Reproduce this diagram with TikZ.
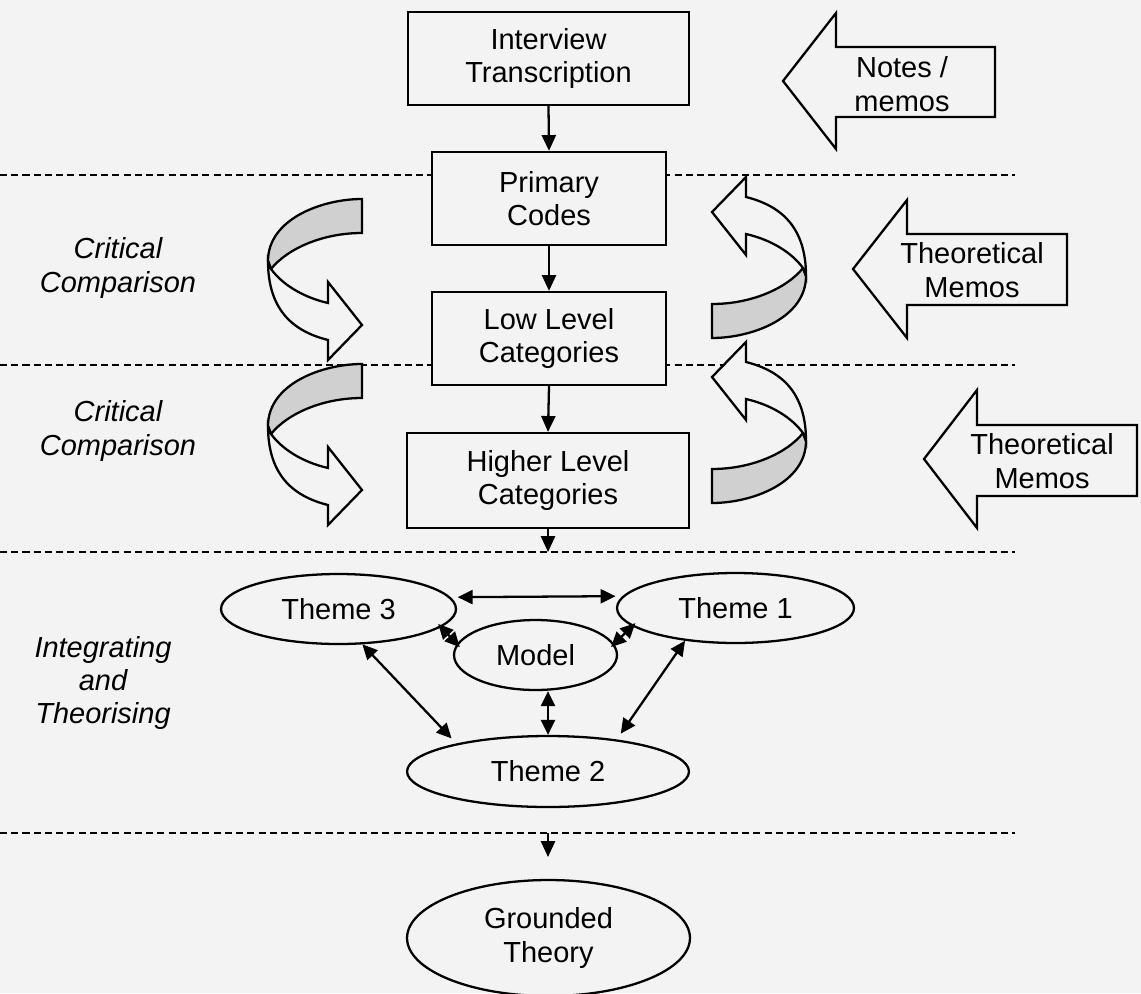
\documentclass[tikz,border=0pt]{standalone}
\usepackage{fontspec}
\setmainfont{Liberation Sans}
\usetikzlibrary{arrows.meta,shapes.geometric}
\definecolor{paper}{RGB}{243,243,243}
\definecolor{band}{RGB}{208,208,208}

% twisted ribbon arrow, drawn relative to the top corner of its flat end
\newcommand\ribbonarrow{%
  \draw[fill=band] (0,0) .. controls (-40,0) and (-94,20) .. (-94,62)
    -- (-91,70) .. controls (-75,50) and (-40,34) .. (0,34) -- cycle;
  \draw[fill=paper] (-94,62) .. controls (-94,110) and (-70,132) .. (-34,141)
    -- (-34,161) -- (0,126) -- (-34,83) -- (-34,104)
    .. controls (-60,98) and (-80,85) .. (-91,70) -- cycle;
}

\begin{document}
\begin{tikzpicture}[x=0.02cm, y=-0.02cm, line width=1.3pt, line join=miter,
  every node/.style={font=\fontsize{16.5}{19}\selectfont},
  tip/.style={-{Triangle[length=9pt,width=8pt]}},
  twotip/.style={{Triangle[length=8.5pt,width=8pt]}-{Triangle[length=8.5pt,width=8pt]}},
  bowtie/.style={{Triangle[length=8.5pt,width=8pt]}-{Triangle[length=8.5pt,width=8pt]},
    shorten <=-2.5pt, shorten >=-2.5pt},
  stagebox/.style={draw, fill=paper, align=center, inner sep=0pt},
  theme/.style={draw, fill=paper, ellipse, align=center, inner sep=0pt},
  phase/.style={align=center, font=\fontsize{16.5}{19}\selectfont\itshape},
  memo/.style={draw, fill=paper},
  divider/.style={dash pattern=on 4pt off 2.4pt, line width=1.1pt}]

\useasboundingbox (0,0) rectangle (1141,993);
\fill[paper] (0,0) rectangle (1141,993);

% phase dividers
\coordinate (d1a) at (0,175);  \coordinate (d1b) at (1015,175);
\coordinate (d2a) at (0,365);  \coordinate (d2b) at (1015,365);
\coordinate (d3a) at (0,552);  \coordinate (d3b) at (1015,552);
\coordinate (d4a) at (0,833);  \coordinate (d4b) at (1015,833);
\draw[divider] (d1a) -- (d1b);
\draw[divider] (d2a) -- (d2b);
\draw[divider] (d3a) -- (d3b);
\draw[divider] (d4a) -- (d4b);

% coding stages
\node[stagebox, minimum width=5.62cm, minimum height=1.86cm] (it) at (548.5,58.5) {Interview\\Transcription};
\node[stagebox, minimum width=4.68cm, minimum height=1.86cm] (pc) at (549,198.5) {Primary\\Codes};
\node[stagebox, minimum width=4.68cm, minimum height=1.86cm] (ll) at (549,338.5) {Low Level\\Categories};
\node[stagebox, minimum width=5.64cm, minimum height=1.90cm] (hl) at (548,480.5) {Higher Level\\Categories};

\draw[tip] (it.south) -- (pc.north);
\draw[tip] (pc.south) -- (ll.north);
\draw[tip] (ll.south) -- (hl.north);
\coordinate (hlend) at (548,552);
\draw[tip] (hl.south) -- (hlend);

% comparison loops
\begin{scope}[shift={(362,199)}]\ribbonarrow\end{scope}
\begin{scope}[shift={(362,364)}]\ribbonarrow\end{scope}
\begin{scope}[shift={(712,338)}, rotate=180]\ribbonarrow\end{scope}
\begin{scope}[shift={(712,503)}, rotate=180]\ribbonarrow\end{scope}

% memo inputs
\draw[memo] (783,81) -- (836,13) -- (836,47) -- (995,47) -- (995,117)
  -- (836,117) -- (836,149) -- cycle;
\node[align=center] (notes) at (902,84) {Notes /\\memos};
\draw[memo] (853,269) -- (907,200) -- (907,234) -- (1067,234) -- (1067,305)
  -- (907,305) -- (907,338) -- cycle;
\node[align=center] (memoA) at (972,270) {Theoretical\\Memos};
\draw[memo] (924,459) -- (977,390) -- (977,425) -- (1137,425) -- (1137,496)
  -- (977,496) -- (977,528) -- cycle;
\node[align=center] (memoB) at (1042,461) {Theoretical\\Memos};

% phase labels
\node[phase] (ph1) at (118,268) {Critical\\Comparison};
\node[phase] (ph2) at (118,431) {Critical\\Comparison};
\node[phase] (ph3) at (103,683) {Integrating\\and\\Theorising};

% themes
\node[theme, minimum width=4.70cm, minimum height=1.40cm] (t3) at (338.5,609) {Theme 3};
\node[theme, minimum width=3.26cm, minimum height=1.40cm] (m) at (535.5,655) {Model};
\node[theme, minimum width=4.74cm, minimum height=1.40cm] (t1) at (735.5,608) {Theme 1};
\node[theme, minimum width=5.64cm, minimum height=1.42cm] (t2) at (548,771.5) {Theme 2};

\draw[twotip, shorten <=4pt, shorten >=4pt] (t3.6) -- (t1.174);
\draw[bowtie] (t3.-10) -- (m.172);
\draw[bowtie] (t1.190) -- (m.8);
\draw[twotip, shorten >=4pt] (t3.-56) -- (t2.163);
\draw[twotip, shorten >=4pt] (t1.213) -- (t2.25);
\draw[twotip] (t2.north |- m.south) -- (t2.north);

% outcome
\node[theme, minimum width=5.66cm, minimum height=2.32cm] (gt) at (548.5,938) {Grounded\\Theory};
\coordinate (gtfrom) at (548,833);
\coordinate (gtto) at (548,857);
\draw[tip] (gtfrom) -- (gtto);

\end{tikzpicture}
\end{document}
